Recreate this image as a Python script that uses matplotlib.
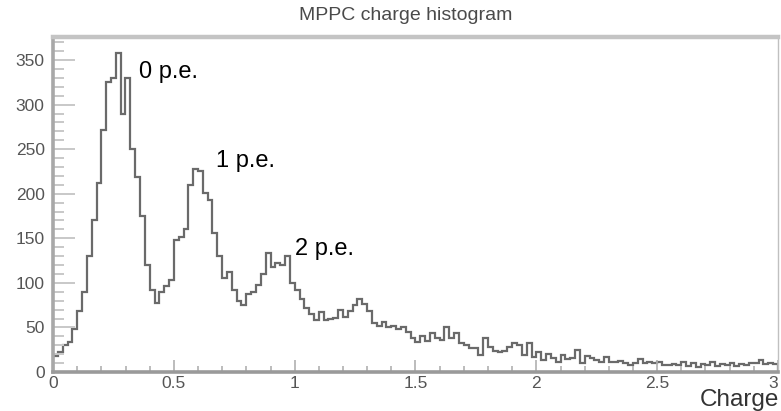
import numpy as np
import matplotlib
matplotlib.use("Agg")
import matplotlib.pyplot as plt
from matplotlib.ticker import MultipleLocator, FixedLocator

plt.rcParams['font.family'] = ['Liberation Sans', 'DejaVu Sans']

# MPPC charge spectrum: 150 bins of width 0.02 between 0 and 3
bin_edges = np.round(np.arange(0.0, 3.0001, 0.02), 4)
counts = [
    18, 22, 30, 34, 48, 68, 90, 130, 170, 212,
    272, 325, 330, 358, 290, 330, 250, 219, 175, 120,
    92, 77, 90, 96, 103, 148, 152, 160, 210, 228,
    225, 201, 193, 156, 130, 106, 112, 92, 80, 75,
    88, 90, 98, 110, 133, 118, 122, 120, 130, 100,
    92, 82, 72, 65, 58, 67, 58, 60, 61, 70,
    62, 68, 75, 82, 76, 68, 55, 52, 56, 50,
    52, 48, 50, 45, 38, 34, 40, 35, 44, 38,
    36, 50, 38, 44, 32, 30, 27, 27, 19, 38,
    28, 24, 22, 24, 28, 32, 30, 19, 32, 17,
    23, 13, 20, 16, 11, 19, 15, 16, 25, 10,
    18, 16, 13, 11, 17, 11, 11, 12, 10, 8,
    10, 15, 10, 11, 10, 11, 8, 8, 9, 8,
    11, 7, 10, 6, 9, 8, 11, 7, 9, 8,
    10, 7, 9, 8, 10, 10, 13, 9, 10, 9,
]

x_ticks = [0, 0.5, 1, 1.5, 2, 2.5, 3]
x_tick_labels = ["0", "0.5", "1", "1.5", "2", "2.5", "3"]

# photo-electron peak annotations (text, x, y)
peak_labels = ["0 p.e.", "1 p.e.", "2 p.e."]
peak_label_x = [0.356, 0.674, 1.0]
peak_label_y = [330, 230, 131]

title = "MPPC charge histogram"
xlabel = "Charge"

fig = plt.figure(figsize=(7.81, 4.11), dpi=100)
ax = fig.add_axes([53 / 781, 39 / 411, 725 / 781, 335 / 411])

ax.stairs(counts, bin_edges, color="#6a6a6a", linewidth=1.6)

ax.set_xlim(0, 3)
ax.set_ylim(0, 1.05 * max(counts))

# ticks drawn inside the frame, ROOT style
ax.xaxis.set_major_locator(FixedLocator(x_ticks))
ax.set_xticklabels(x_tick_labels)
ax.xaxis.set_minor_locator(MultipleLocator(0.1))
ax.yaxis.set_major_locator(MultipleLocator(50))
ax.yaxis.set_minor_locator(MultipleLocator(10))
ax.tick_params(axis="x", which="major", direction="in", length=9, width=1.2,
               color="#b0b0b0", labelsize=12.5, labelcolor="#555555", pad=3)
ax.tick_params(axis="x", which="minor", direction="in", length=4.5, width=1.2,
               color="#b0b0b0")
ax.tick_params(axis="y", which="major", direction="in", length=16, width=1.4,
               color="#c8c8c8", labelsize=12.5, labelcolor="#555555", pad=6)
ax.tick_params(axis="y", which="minor", direction="in", length=8, width=1.4,
               color="#c8c8c8")
ax.yaxis.set_major_formatter(lambda v, p: f"{v:g}")

# keep the last x tick label inside the canvas
for tick in ax.xaxis.get_major_ticks():
    if np.isclose(tick.get_loc(), 3):
        tick.label1.set_horizontalalignment("right")

ax.spines["left"].set_color("#a8a8a8")
ax.spines["left"].set_linewidth(2.6)
ax.spines["bottom"].set_color("#9a9a9a")
ax.spines["bottom"].set_linewidth(2.6)
ax.spines["top"].set_color("#c4c4c4")
ax.spines["top"].set_linewidth(3.2)
ax.spines["right"].set_color("#c0c0c0")
ax.spines["right"].set_linewidth(1.0)

for txt, x, y in zip(peak_labels, peak_label_x, peak_label_y):
    ax.text(x, y, txt, fontsize=17, color="black", ha="left", va="baseline")

fig.text(406 / 781, 1 - 16 / 411, title, fontsize=14, color="#4a4a4a",
         ha="center", va="center")
fig.text(779 / 781, 1 - 406 / 411, xlabel, fontsize=17.5, color="#333333",
         ha="right", va="baseline")

fig.savefig("out.png", dpi=100)
